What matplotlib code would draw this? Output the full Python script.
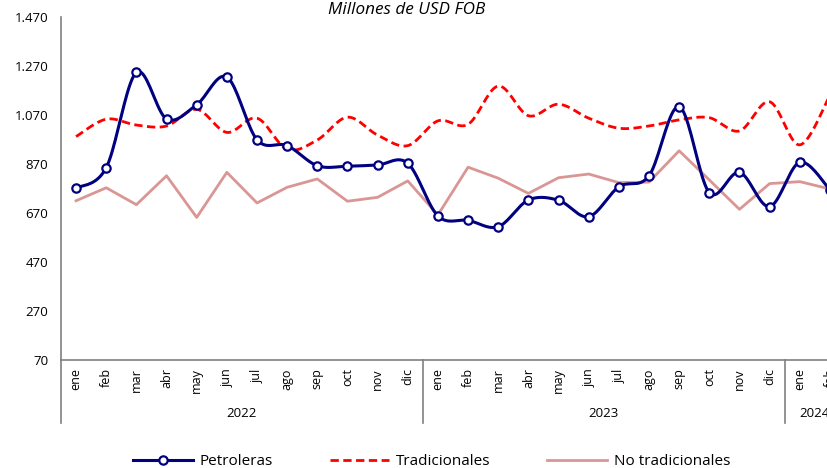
import numpy as np
import matplotlib
matplotlib.use("Agg")
import matplotlib.pyplot as plt
import matplotlib.transforms as mtransforms

plt.rcParams['font.family'] = ['Open Sans', 'DejaVu Sans']

# Datos (millones de USD FOB)
meses = ['ene', 'feb', 'mar', 'abr', 'may', 'jun', 'jul', 'ago', 'sep', 'oct', 'nov', 'dic',
         'ene', 'feb', 'mar', 'abr', 'may', 'jun', 'jul', 'ago', 'sep', 'oct', 'nov', 'dic',
         'ene', 'feb']
anios = ['2022', '2023', '2024']
meses_por_anio = [12, 12, 2]

petroleras = [771, 855, 1244, 1054, 1112, 1225, 969, 945, 863, 861, 866, 873,
              658, 640, 614, 723, 722, 655, 777, 822, 1104, 753, 836, 696,
              877, 765]
tradicionales = [982, 1053, 1029, 1025, 1093, 999, 1057, 930, 968, 1061, 988, 945,
                 1046, 1032, 1188, 1067, 1114, 1057, 1016, 1025, 1050, 1059, 1005, 1124,
                 948, 1150]
no_tradicionales = [720, 773, 704, 822, 652, 836, 711, 775, 809, 718, 734, 801,
                    662, 857, 812, 750, 814, 829, 794, 796, 924, 805, 685, 790,
                    798, 768]


def suavizar(y, n=20):
    # curva tipo Catmull-Rom, parecida a la "linea suavizada" de Excel
    y = np.asarray(y, dtype=float)
    x = np.arange(len(y), dtype=float)
    px = np.concatenate([[x[0]], x, [x[-1]]])
    py = np.concatenate([[y[0]], y, [y[-1]]])
    xs, ys = [], []
    for i in range(1, len(px) - 2):
        t = np.linspace(0, 1, n, endpoint=False)
        for arr, out in ((px, xs), (py, ys)):
            p0, p1, p2, p3 = arr[i - 1], arr[i], arr[i + 1], arr[i + 2]
            m1 = (p2 - p0) / 2
            m2 = (p3 - p1) / 2
            h00 = 2 * t**3 - 3 * t**2 + 1
            h10 = t**3 - 2 * t**2 + t
            h01 = -2 * t**3 + 3 * t**2
            h11 = t**3 - t**2
            out.extend(h00 * p1 + h10 * m1 + h01 * p2 + h11 * m2)
    xs.append(x[-1])
    ys.append(y[-1])
    return np.array(xs), np.array(ys)


fig = plt.figure(figsize=(8.27, 4.68), dpi=100)
# el area del grafico sobrepasa el borde derecho, como en el original
ax = fig.add_axes([61 / 827, 108 / 468, 784 / 827, 343 / 468])

x = np.arange(len(meses))
xs, ys = suavizar(petroleras)
ax.plot(xs, ys, color='#000080', lw=2.2, zorder=3)
ax.plot(x, petroleras, ls='none', marker='o', ms=6, mfc='white', mec='#000080', mew=1.6, zorder=4)
xs, ys = suavizar(tradicionales)
l_trad, = ax.plot(xs, ys, color='#FF0000', lw=2, ls=(0, (3, 1.6)), zorder=2)
l_notrad, = ax.plot(x, no_tradicionales, color='#D99694', lw=2, zorder=1)

ax.set_xlim(-0.5, len(meses) - 0.5)
ax.set_ylim(70, 1470)
ax.set_yticks(range(70, 1471, 200))
ax.set_yticklabels([f'{v:,}'.replace(',', '.') for v in range(70, 1471, 200)], fontsize=9.5)
ax.tick_params(axis='y', length=0, pad=9)

ax.set_xticks(x)
ax.set_xticklabels(meses, rotation=90, fontsize=9, va='top')
ax.tick_params(axis='x', length=0, pad=6)

for s in ['top', 'right']:
    ax.spines[s].set_visible(False)
for s in ['left', 'bottom']:
    ax.spines[s].set_color('#808080')
    ax.spines[s].set_linewidth(1.2)

# eje de categorias multinivel
trans = mtransforms.blended_transform_factory(ax.transData, ax.transAxes)
inicio = -0.5
for anio, n in zip(anios, meses_por_anio):
    ax.plot([inicio, inicio], [0, -0.184], transform=trans, color='#808080', lw=1.2, clip_on=False)
    ax.text(inicio + n / 2, -0.155, anio, transform=trans, ha='center', va='center', fontsize=9.5)
    inicio += n

fig.text(0.492, 0.978, 'Millones de USD FOB', ha='center', va='center', fontsize=12.3, style='italic')

h_petro = plt.Line2D([], [], color='#000080', lw=2.2, marker='o', ms=6, mfc='white', mec='#000080', mew=1.6)
fig.legend([h_petro, l_trad, l_notrad], ['Petroleras', 'Tradicionales', 'No tradicionales'],
           loc='center', bbox_to_anchor=(0.522, 0.014), ncol=3, frameon=False,
           fontsize=11, handlelength=3.9, handletextpad=0.45, columnspacing=3.7)

fig.savefig('out.png', dpi=100)
